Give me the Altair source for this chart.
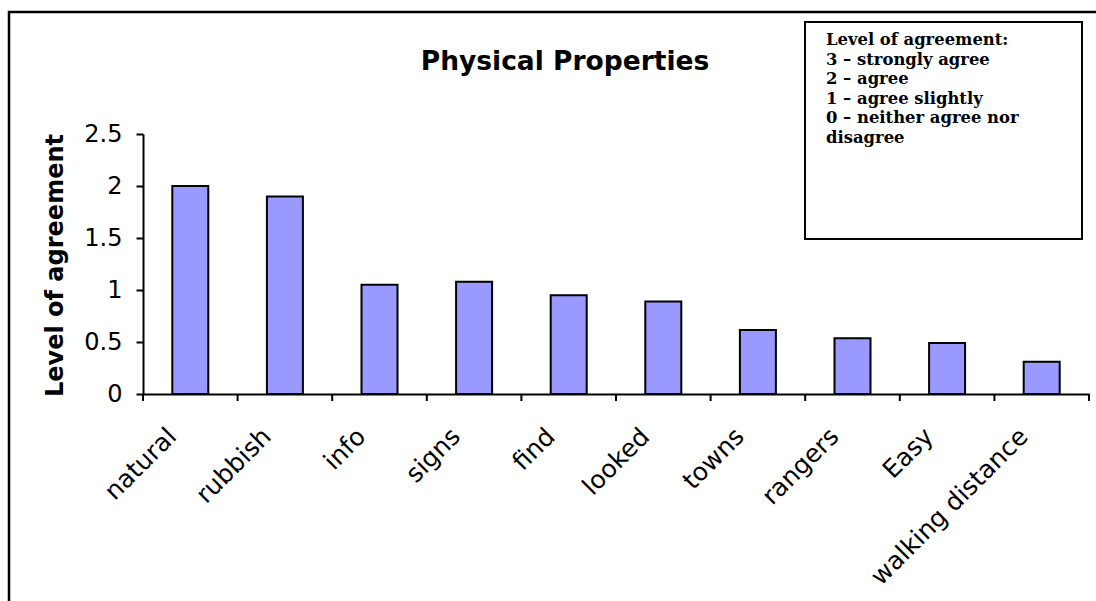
import altair as alt
import pandas as pd

# Mean level of agreement for each physical-property statement
categories = ["natural", "rubbish", "info", "signs", "find",
              "looked", "towns", "rangers", "Easy", "walking distance"]
agreement = [2.0, 1.9, 1.05, 1.08, 0.95, 0.89, 0.615, 0.535, 0.49, 0.31]
y_ticks = [0, 0.5, 1, 1.5, 2, 2.5]

chart_title = "Physical Properties"
y_title = "Level of agreement"
key_lines = [
    "Level of agreement:",
    "3 \u2013 strongly agree",
    "2 \u2013 agree",
    "1 \u2013 agree slightly",
    "0 \u2013 neither agree nor",
    "disagree",
]

df = pd.DataFrame({"statement": categories, "agreement": agreement})
one = pd.DataFrame({"k": [0]})

W, H = 946, 260
PAD_L, PAD_T = 143, 134

x_enc = alt.X(
    "statement:N",
    sort=categories,
    scale=alt.Scale(paddingInner=0, paddingOuter=0),
    axis=alt.Axis(
        title=None,
        ticks=False,
        tickSize=0,
        labelAngle=-45,
        labelAlign="right",
        labelBaseline="middle",
        labelPadding=38,
        labelOffset=-18,
        labelLimit=0,
        labelFont="DejaVu Sans",
        labelFontSize=25,
        labelColor="black",
        domainColor="black",
        domainWidth=2,
        grid=False,
    ),
)

y_enc = alt.Y(
    "agreement:Q",
    scale=alt.Scale(domain=[0, 2.5], nice=False),
    axis=alt.Axis(
        title=y_title,
        values=y_ticks,
        format=".1~f",
        grid=False,
        tickSize=7,
        tickWidth=2,
        tickColor="black",
        domainColor="black",
        domainWidth=2,
        labelPadding=14,
        labelFont="DejaVu Sans",
        labelFontSize=24,
        labelColor="black",
        titleFont="DejaVu Sans",
        titleFontSize=24,
        titleFontWeight="bold",
        titleColor="black",
        titleAngle=-90,
        titleBaseline="alphabetic",
        titleAlign="center",
        titleX=-81,
        titleY=H / 2 + 1,
    ),
)

# outer frame of the figure
frame = alt.Chart(one).mark_rect(
    fillOpacity=0, stroke="black", strokeWidth=2.5
).encode(
    x=alt.value(-134), x2=alt.value(W + 60),
    y=alt.value(-122), y2=alt.value(H + 300),
)

bars = alt.Chart(df).mark_bar(
    width=36, color="#9999FF", stroke="black", strokeWidth=2
).encode(x=x_enc, y=y_enc)

# category-boundary ticks below the x axis
ticks = alt.Chart(df).mark_rule(color="black", strokeWidth=2).encode(
    x=alt.X("statement:N", sort=categories, bandPosition=0),
    y=alt.value(H),
    y2=alt.value(H + 7),
)
end_tick = alt.Chart(one).mark_rule(color="black", strokeWidth=2).encode(
    x=alt.value(W), y=alt.value(H), y2=alt.value(H + 7)
)

title = alt.Chart(one).mark_text(
    text=chart_title, font="DejaVu Sans", fontSize=26.5, fontWeight="bold",
    align="center", baseline="alphabetic", color="black",
).encode(x=alt.value(422), y=alt.value(-64))

key_box = alt.Chart(one).mark_rect(
    fill="white", stroke="black", strokeWidth=2
).encode(
    x=alt.value(662), x2=alt.value(939),
    y=alt.value(-112), y2=alt.value(105),
)
key_text = alt.Chart(one).mark_text(
    font="DejaVu Serif", fontSize=16.4, fontWeight="bold",
    align="left", baseline="alphabetic", lineHeight=19.5, color="black",
).encode(x=alt.value(683), y=alt.value(-89), text=alt.value(key_lines))

chart = alt.layer(
    frame, bars, ticks, end_tick, title, key_box, key_text
).properties(
    width=W,
    height=H,
    autosize=alt.AutoSizeParams(type="none"),
    padding={"left": PAD_L, "top": PAD_T,
             "right": 1096 - PAD_L - W, "bottom": 601 - PAD_T - H},
    background="white",
).configure_view(stroke=None)

chart.save("out.html", embed_options={"renderer": "svg", "actions": False})
